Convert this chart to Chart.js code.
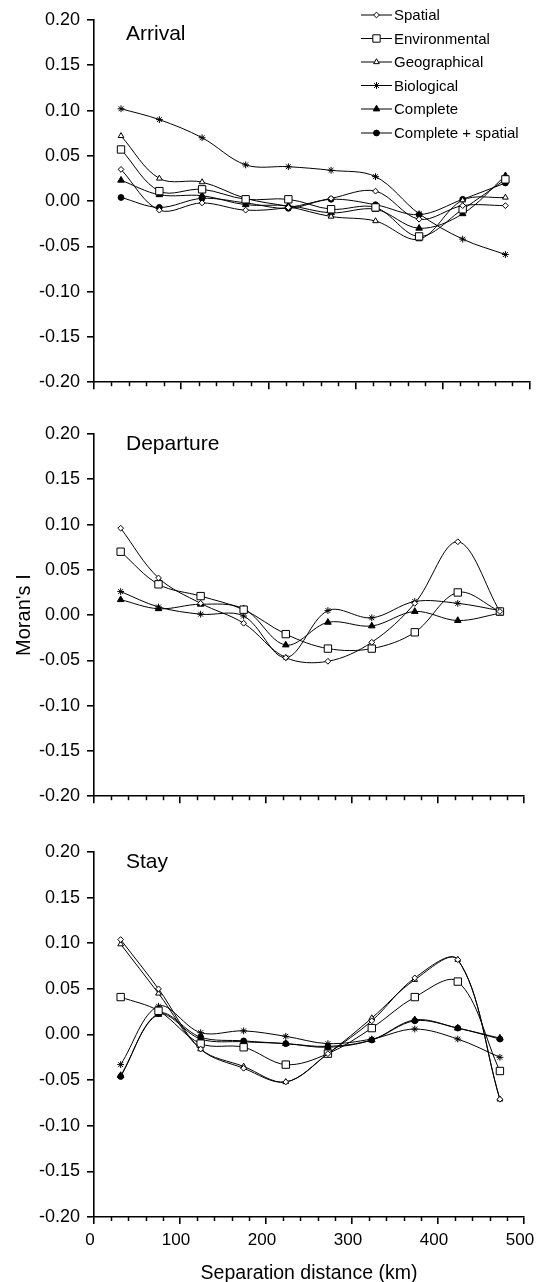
<!DOCTYPE html>
<html>
<head>
<meta charset="utf-8">
<title>Moran's I correlograms</title>
<script src="https://cdn.jsdelivr.net/npm/chart.js"></script>
<style>
  html, body { margin: 0; padding: 0; background: #fff; overflow: hidden; }
  .panel { position: absolute; left: 0; width: 536px; }
  canvas { display: block; }
</style>
</head>
<body>
<div class="panel" style="top:0px"><canvas id="arrival" width="536" height="400"></canvas></div>
<div class="panel" style="top:414px"><canvas id="departure" width="536" height="400"></canvas></div>
<div class="panel" style="top:832px"><canvas id="stay" width="536" height="460"></canvas></div>
<script>
// distance classes (km)
const distance = [31, 75, 124, 174, 223, 272, 323, 373, 423, 472];

const xTickValues = [0, 100, 200, 300, 400, 500];
const yTickValues = [-0.20, -0.15, -0.10, -0.05, 0.00, 0.05, 0.10, 0.15, 0.20];

// Arrival
const arrivalSpatial         = [0.035, -0.010, -0.002, -0.010, -0.007, 0.003, 0.011, -0.020, -0.005, -0.005];
const arrivalEnvironmental   = [0.057, 0.011, 0.013, 0.002, 0.002, -0.009, -0.007, -0.039, -0.009, 0.024];
const arrivalGeographical    = [0.072, 0.025, 0.021, 0.003, -0.006, -0.017, -0.022, -0.042, 0.001, 0.004];
const arrivalBiological      = [0.102, 0.090, 0.070, 0.040, 0.038, 0.034, 0.027, -0.014, -0.042, -0.059];
const arrivalComplete        = [0.023, 0.007, 0.006, -0.004, -0.005, -0.013, -0.009, -0.030, -0.014, 0.028];
const arrivalCompleteSpatial = [0.004, -0.007, 0.003, -0.002, -0.008, 0.002, -0.004, -0.015, 0.002, 0.020];

// Departure
const departureSpatial       = [0.096, 0.041, 0.013, -0.009, -0.047, -0.051, -0.030, 0.013, 0.081, 0.004];
const departureEnvironmental = [0.070, 0.034, 0.021, 0.006, -0.021, -0.037, -0.037, -0.019, 0.025, 0.004];
const departureBiological    = [0.026, 0.009, 0.001, -0.001, -0.047, 0.005, -0.003, 0.015, 0.013, 0.005];
const departureComplete      = [0.017, 0.007, 0.012, 0.007, -0.033, -0.008, -0.012, 0.004, -0.006, 0.002];

// Stay
const staySpatial         = [0.104, 0.050, -0.016, -0.037, -0.052, -0.021, 0.015, 0.062, 0.082, -0.071];
const stayEnvironmental   = [0.041, 0.026, -0.010, -0.014, -0.033, -0.021, 0.007, 0.041, 0.058, -0.040];
const stayGeographical    = [0.099, 0.045, -0.016, -0.035, -0.052, -0.021, 0.018, 0.060, 0.082, -0.071];
const stayBiological      = [-0.033, 0.031, 0.002, 0.004, -0.002, -0.010, -0.005, 0.006, -0.005, -0.025];
const stayComplete        = [-0.045, 0.022, -0.005, -0.008, -0.010, -0.014, -0.006, 0.016, 0.007, -0.004];
const stayCompleteSpatial = [-0.046, 0.023, -0.003, -0.007, -0.010, -0.013, -0.006, 0.015, 0.007, -0.005];

Chart.defaults.font.family = '"Liberation Sans", Arial, Helvetica, sans-serif';
Chart.defaults.color = '#000';

const markers = {
  'Spatial':            { pointStyle: 'rectRot',  radius: 2.9, fill: '#fff' },
  'Environmental':      { pointStyle: 'rect',     radius: 5.2, fill: '#fff' },
  'Geographical':       { pointStyle: 'triangle', radius: 3.3, fill: '#fff' },
  'Biological':         { pointStyle: 'star',     radius: 3.4, fill: '#000' },
  'Complete':           { pointStyle: 'triangle', radius: 3.8, fill: '#000' },
  'Complete + spatial': { pointStyle: 'circle',   radius: 2.9, fill: '#000' }
};

function series(label, values) {
  const m = markers[label];
  return {
    label: label,
    data: distance.map((d, i) => ({ x: d, y: values[i] })),
    borderColor: '#000',
    borderWidth: 1,
    tension: 0.35,
    fill: false,
    pointStyle: m.pointStyle,
    pointRadius: m.radius,
    pointBackgroundColor: m.fill,
    pointBorderColor: '#000',
    pointBorderWidth: 1
  };
}

// short minor ticks every 20 km on the x axis
const minorTicks = {
  id: 'minorTicks',
  afterDraw(chart) {
    const x = chart.scales.x, ctx = chart.ctx;
    ctx.save();
    ctx.strokeStyle = '#000';
    ctx.lineWidth = 1.5;
    for (let v = 20; v < 500; v += 20) {
      if (v % 100 === 0) continue;
      const px = Math.round(x.getPixelForValue(v)) + 0.5;
      ctx.beginPath();
      ctx.moveTo(px, x.top);
      ctx.lineTo(px, x.top + 4);
      ctx.stroke();
    }
    ctx.restore();
  }
};

function panelLabel(text, x, y) {
  return {
    id: 'panelLabel',
    afterDraw(chart) {
      const ctx = chart.ctx;
      ctx.save();
      ctx.fillStyle = '#000';
      ctx.font = '21px ' + Chart.defaults.font.family;
      ctx.textBaseline = 'alphabetic';
      ctx.fillText(text, x, y);
      ctx.restore();
    }
  };
}

// legend drawn inside the top panel: line with the marker in its middle
const insideLegend = {
  id: 'insideLegend',
  afterDraw(chart) {
    const ctx = chart.ctx;
    const rows = [15, 38.5, 62, 85.5, 109, 133];
    ctx.save();
    chart.data.datasets.forEach((ds, i) => {
      const y = rows[i];
      ctx.strokeStyle = '#000';
      ctx.lineWidth = 1;
      ctx.beginPath();
      ctx.moveTo(361, y);
      ctx.lineTo(392, y);
      ctx.stroke();
      ctx.fillStyle = ds.pointBackgroundColor;
      ctx.strokeStyle = '#000';
      ctx.lineWidth = 1;
      Chart.helpers.drawPoint(ctx, { pointStyle: ds.pointStyle, radius: ds.pointRadius, rotation: 0, borderWidth: 1 }, 376.5, y);
      ctx.fillStyle = '#000';
      ctx.font = '15px ' + Chart.defaults.font.family;
      ctx.textBaseline = 'middle';
      ctx.fillText(ds.label, 394, y + 1);
    });
    ctx.restore();
  }
};

function xAxis(showLabels, height) {
  return {
    type: 'linear',
    min: 0,
    max: 500,
    afterBuildTicks: s => { s.ticks = xTickValues.map(v => ({ value: v })); },
    border: { display: true, color: '#000', width: 1.6 },
    grid: { drawOnChartArea: false, drawTicks: true, tickLength: 7, color: '#000', lineWidth: 1.6 },
    ticks: { display: showLabels, color: '#000', font: { size: 17 }, padding: 6, labelOffset: -4, maxRotation: 0, autoSkip: false },
    title: {
      display: showLabels,
      text: 'Separation distance (km)',
      color: '#000',
      font: { size: 19.5 },
      padding: { top: 0, bottom: 7 }
    },
    afterFit: s => { s.height = height; s.paddingLeft = 0; s.paddingRight = 0; }
  };
}

function yAxis(width, showTitle) {
  return {
    type: 'linear',
    min: -0.2,
    max: 0.2,
    afterBuildTicks: s => { s.ticks = yTickValues.map(v => ({ value: v })); },
    border: { display: true, color: '#000', width: 1.6 },
    grid: { drawOnChartArea: false, drawTicks: true, tickLength: 7, color: '#000', lineWidth: 1.6 },
    ticks: {
      color: '#000',
      font: { size: 18 },
      padding: 7,
      callback: v => (Math.abs(v) < 1e-9 ? 0 : v).toFixed(2)
    },
    title: {
      display: showTitle,
      text: "Moran's I",
      color: '#000',
      font: { size: 20 },
      padding: { top: 12, bottom: 0 }
    },
    afterFit: s => { s.width = width; }
  };
}

function makePanel(id, datasets, opts) {
  return new Chart(document.getElementById(id), {
    type: 'line',
    data: { datasets: datasets },
    options: {
      responsive: false,
      animation: false,
      devicePixelRatio: 1,
      layout: { padding: { top: 20, right: opts.right, bottom: 0, left: 0 } },
      plugins: { legend: { display: false }, tooltip: { enabled: false } },
      scales: {
        x: xAxis(opts.xLabels, opts.xHeight),
        y: yAxis(opts.left, opts.yTitle)
      }
    },
    plugins: opts.plugins
  });
}

makePanel('arrival', [
  series('Spatial', arrivalSpatial),
  series('Environmental', arrivalEnvironmental),
  series('Geographical', arrivalGeographical),
  series('Biological', arrivalBiological),
  series('Complete', arrivalComplete),
  series('Complete + spatial', arrivalCompleteSpatial)
], { left: 94, right: 4, xHeight: 13, xLabels: false, yTitle: false,
     plugins: [minorTicks, panelLabel('Arrival', 126, 40), insideLegend] });

makePanel('departure', [
  series('Spatial', departureSpatial),
  series('Environmental', departureEnvironmental),
  series('Biological', departureBiological),
  series('Complete', departureComplete)
], { left: 94, right: 12, xHeight: 13, xLabels: false, yTitle: true,
     plugins: [minorTicks, panelLabel('Departure', 126, 36)] });

makePanel('stay', [
  series('Spatial', staySpatial),
  series('Environmental', stayEnvironmental),
  series('Geographical', stayGeographical),
  series('Biological', stayBiological),
  series('Complete', stayComplete),
  series('Complete + spatial', stayCompleteSpatial)
], { left: 94, right: 12, xHeight: 75, xLabels: true, yTitle: false,
     plugins: [minorTicks, panelLabel('Stay', 126, 36)] });
</script>
</body>
</html>
